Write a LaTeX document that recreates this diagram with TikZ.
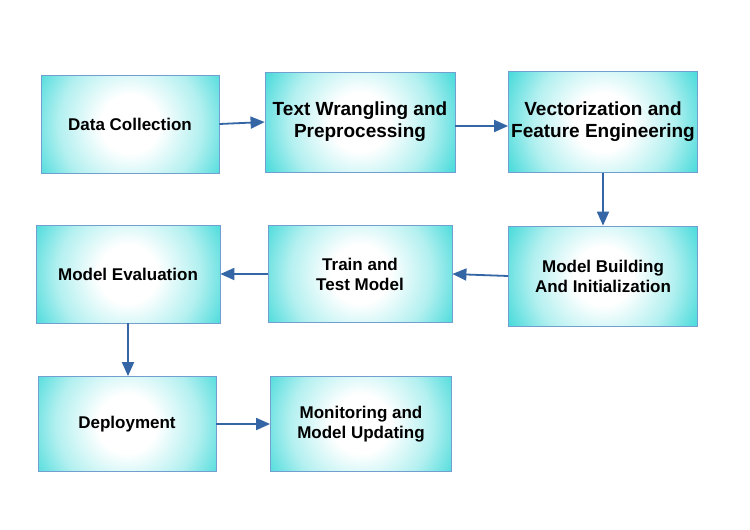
\documentclass[tikz,border=0pt]{standalone}
\usepackage{fontspec}
\setmainfont{Liberation Sans}
\usetikzlibrary{arrows.meta}
\definecolor{boxcyan}{RGB}{0,204,204}
\definecolor{boxline}{RGB}{114,159,207}
\definecolor{flowblue}{RGB}{52,101,164}
\pgfdeclareradialshading{boxglow}{\pgfpoint{0bp}{0bp}}{color(0bp)=(white); color(7bp)=(white); color(17bp)=(boxcyan!30); color(25bp)=(boxcyan!70); color(32bp)=(boxcyan); color(50bp)=(boxcyan)}
\tikzset{
  stage/.style={draw=boxline, line width=0.8pt, align=center, inner sep=0pt,
    path picture={\shade[shading=boxglow]
      ([shift={(-105pt,-105pt)}]path picture bounding box.center) rectangle
      ([shift={(105pt,105pt)}]path picture bounding box.center);},
    font=\bfseries\fontsize{17}{20}\selectfont},
  bigstage/.style={stage, font=\bfseries\fontsize{19}{22}\selectfont},
  flow/.style={draw=flowblue, line width=1.8pt, -{Triangle[length=14pt,width=12pt]}}
}
\begin{document}
\begin{tikzpicture}[x=1pt,y=-1pt]
\useasboundingbox[fill=white] (0,0) rectangle (750,530);
\node[stage, minimum width=178pt, minimum height=98pt] (dc) at (130,124) {Data Collection};
\node[bigstage, minimum width=190pt, minimum height=100pt] (tw) at (360,122) {Text Wrangling and\\Preprocessing};
\node[bigstage, minimum width=189pt, minimum height=101pt] (vf) at (603,122) {Vectorization and\\Feature Engineering};
\node[stage, minimum width=189pt, minimum height=100pt] (mb) at (603,276) {Model Building\\And Initialization};
\node[stage, minimum width=184pt, minimum height=97pt] (tt) at (360,274) {Train and\\Test Model};
\node[stage, minimum width=184pt, minimum height=98pt] (me) at (128,274) {Model Evaluation};
\node[stage, minimum width=178pt, minimum height=95pt] (dp) at (127,424) {Deployment};
\node[stage, minimum width=181pt, minimum height=95pt] (mu) at (361,424) {Monitoring and\\Model Updating};
\draw[flow] (dc.east) -- (tw.west);
\draw[flow] ([yshift=-4pt]tw.east) -- ([yshift=-4pt]vf.west);
\draw[flow] (vf.south) -- (mb.north);
\draw[flow] (mb.west) -- (tt.east);
\draw[flow] (tt.west) -- (me.east);
\draw[flow] (me.south) -- (me.south |- dp.north);
\draw[flow] (dp.east) -- (mu.west);
\end{tikzpicture}
\end{document}
